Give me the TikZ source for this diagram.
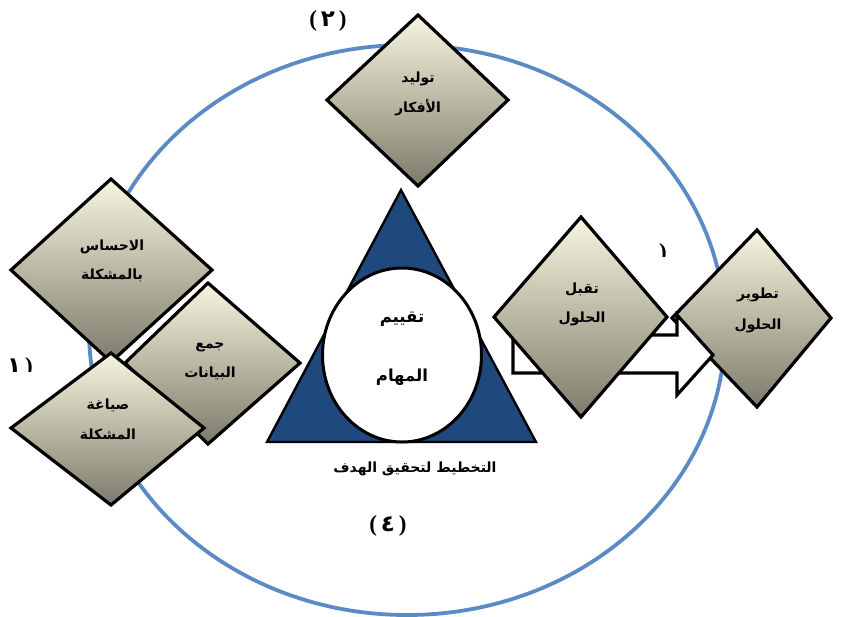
\documentclass[tikz,border=0pt]{standalone}
\usepackage{fontspec}
\usetikzlibrary{shapes.geometric}
\TeXXeTstate=1
\newfontfamily\arabicfont[Script=Arabic]{DejaVu Sans}
\setmainfont{Liberation Serif}
\newcommand{\ar}[1]{\arabicfont\bfseries\beginR #1\endR}
\definecolor{ring}{HTML}{5B8BC4}
\definecolor{navy}{HTML}{1F497D}
\pgfdeclareverticalshading{diashade}{100bp}{
  rgb(0bp)=(0.47,0.46,0.40);
  rgb(25bp)=(0.49,0.48,0.42);
  rgb(50bp)=(0.73,0.72,0.64);
  rgb(75bp)=(0.97,0.96,0.88);
  rgb(100bp)=(0.97,0.96,0.88)}
\tikzset{
  dia/.style={draw=black,line width=3.2pt,line join=miter,shading=diashade},
  lbl/.style={font=\fontsize{14}{17}\selectfont,text=black,inner sep=0pt},
  big/.style={font=\fontsize{16.5}{20}\selectfont,text=black,inner sep=0pt},
  num/.style={font=\fontsize{23}{25}\selectfont\bfseries,text=black,inner sep=0pt}
}
\begin{document}
\begin{tikzpicture}[x=1pt,y=-1pt]
\useasboundingbox (0,0) rectangle (845,616);
% ring
\draw[ring,line width=3.8pt] (407,330) ellipse [x radius=318,y radius=285];
% triangle and circle
\draw[black,fill=navy,line width=2.4pt,line join=miter] (401,190)--(536,442)--(267,442)--cycle;
\draw[black,fill=white,line width=3pt] (402,355) ellipse [x radius=79.5,y radius=87];
% diamonds
\path[dia] (418,15)--(508,100)--(418,186)--(327,100)--cycle;
\path[dia] (208,283)--(300,363)--(208,444)--(125,363)--cycle;
\path[dia] (111,179)--(212,270)--(111,362)--(11,270)--cycle;
\path[dia] (111,353)--(204,428)--(111,505)--(11,428)--cycle;
\path[dia] (757,230)--(831,318)--(757,407)--(672,318)--cycle;
% block arrow
\coordinate (a1) at (513,335);\coordinate (a2) at (677,335);\coordinate (a3) at (677,315);
\coordinate (a4) at (713,355);\coordinate (a5) at (677,395);\coordinate (a6) at (677,373);\coordinate (a7) at (513,373);
\draw[line width=3.2pt,fill=white,miter limit=10] (a1)--(a2)--(a3)--(a4)--(a5)--(a6)--(a7)--cycle;
\path[dia] (581,217)--(667,317)--(581,417)--(494,317)--cycle;
% labels
\node[lbl] (t1) at (418,79) {\ar{توليد}};
\node[lbl] (t2) at (418,108) {\ar{الأفكار}};
\node[lbl] (t3) at (112,247) {\ar{الاحساس}};
\node[lbl] (t4) at (112,275) {\ar{بالمشكلة}};
\node[lbl] (t5) at (210,347) {\ar{جمع}};
\node[lbl] (t6) at (210,373) {\ar{البيانات}};
\node[lbl] (t7) at (108,405) {\ar{صياغة}};
\node[lbl] (t8) at (108,434) {\ar{المشكلة}};
\node[lbl] (t9) at (582,289) {\ar{تقبل}};
\node[lbl] (t10) at (582,319) {\ar{الحلول}};
\node[lbl] (t11) at (758,295) {\ar{تطوير}};
\node[lbl] (t12) at (758,326) {\ar{الحلول}};
\node[big] (t13) at (402,319) {\ar{تقييم}};
\node[big] (t14) at (402,377) {\ar{المهام}};
\node[lbl] (t15) at (415,469) {\ar{التخطيط لتحقيق الهدف}};
\begin{scope}
\clip (290,0) rectangle (370,31);
\node[num] (n2) at (328,21) {(\,{\arabicfont ٢}\,)};
\end{scope}
\node[num] (n4) at (388,526) {(\,{\arabicfont ٤}\,)};
\begin{scope}
\clip (0,350) rectangle (40,371);
\node[num] (n1) at (20,368) {{\arabicfont ١}\,)};
\end{scope}
\begin{scope}
\clip (650,235) rectangle (680,256);
\node[num] (n0) at (663,254) {)};
\end{scope}
\end{tikzpicture}
\end{document}
